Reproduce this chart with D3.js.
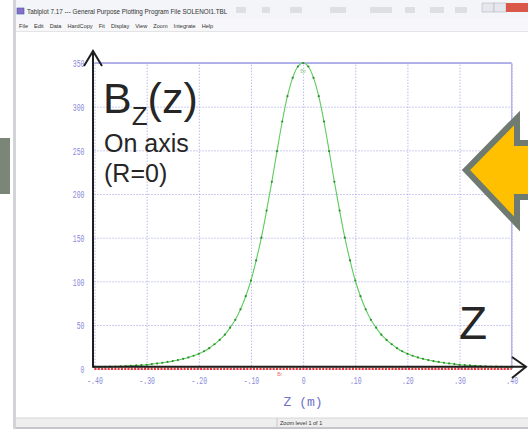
<!DOCTYPE html>
<html>
<head>
<meta charset="utf-8">
<script src="https://cdn.jsdelivr.net/npm/d3@7"></script>
<style>
  body { margin: 0; background: #fff; }
  svg { display: block; }
  .ticklbl { font-family: "Liberation Mono", "DejaVu Sans Mono", monospace; font-size: 11px; fill: #8a8ad8; }
  .over { font-family: "Liberation Sans", Arial, sans-serif; fill: #262626; }
  .win { font-family: "Liberation Sans", Arial, sans-serif; fill: #333; }
</style>
</head>
<body>
<div id="chart"></div>
<script>
// z positions (m) along the solenoid axis
const zValues = [
  -0.40, -0.39, -0.38, -0.37, -0.36, -0.35, -0.34, -0.33, -0.32, -0.31,
  -0.30, -0.29, -0.28, -0.27, -0.26, -0.25, -0.24, -0.23, -0.22, -0.21,
  -0.20, -0.19, -0.18, -0.17, -0.16, -0.15, -0.14, -0.13, -0.12, -0.11,
  -0.10, -0.09, -0.08, -0.07, -0.06, -0.05, -0.04, -0.03, -0.02, -0.01,
  0.00,
  0.01, 0.02, 0.03, 0.04, 0.05, 0.06, 0.07, 0.08, 0.09, 0.10,
  0.11, 0.12, 0.13, 0.14, 0.15, 0.16, 0.17, 0.18, 0.19, 0.20,
  0.21, 0.22, 0.23, 0.24, 0.25, 0.26, 0.27, 0.28, 0.29, 0.30,
  0.31, 0.32, 0.33, 0.34, 0.35, 0.36, 0.37, 0.38, 0.39, 0.40
];
// Bz
const bzValues = [
  1.7, 1.9, 2.1, 2.3, 2.5, 2.7, 3.0, 3.3, 3.7, 4.1,
  4.5, 5.3, 6.0, 6.8, 7.7, 8.7, 9.9, 11.3, 12.9, 14.8,
  17, 20, 23.5, 28, 33, 39, 47, 56, 68, 83,
  101, 124, 150, 181, 214, 249, 283, 312, 333, 346,
  350,
  346, 333, 312, 283, 249, 214, 181, 150, 124, 101,
  83, 68, 56, 47, 39, 33, 28, 23.5, 20, 17,
  14.8, 12.9, 11.3, 9.9, 8.7, 7.7, 6.8, 6.0, 5.3, 4.5,
  4.1, 3.7, 3.3, 3.0, 2.7, 2.5, 2.3, 2.1, 1.9, 1.7
];
// Br on axis is zero
const brValues = [
  0, 0, 0, 0, 0, 0, 0, 0, 0, 0, 0, 0, 0, 0, 0, 0, 0, 0, 0, 0,
  0, 0, 0, 0, 0, 0, 0, 0, 0, 0, 0, 0, 0, 0, 0, 0, 0, 0, 0, 0,
  0,
  0, 0, 0, 0, 0, 0, 0, 0, 0, 0, 0, 0, 0, 0, 0, 0, 0, 0, 0, 0,
  0, 0, 0, 0, 0, 0, 0, 0, 0, 0, 0, 0, 0, 0, 0, 0, 0, 0, 0, 0
];
const xTicks = [-0.4, -0.3, -0.2, -0.1, 0, 0.1, 0.2, 0.3, 0.4];
const xTickLabels = ["-.40", "-.30", "-.20", "-.10", "0", ".10", ".20", ".30", ".40"];
const yTicks = [0, 50, 100, 150, 200, 250, 300, 350];
const yTickLabels = ["0", "50", "100", "150", "200", "250", "300", "350"];
const menuItems = ["File", "Edit", "Data", "HardCopy", "Fit", "Display", "View", "Zoom", "Integrate", "Help"];

const W = 528, H = 429;
const svg = d3.select("#chart").append("svg").attr("width", W).attr("height", H);

// ---- window chrome ----
svg.append("rect").attr("x", 0).attr("y", 138).attr("width", 10).attr("height", 56).attr("fill", "#7b8679");
svg.append("rect").attr("x", 13).attr("y", 0).attr("width", 3).attr("height", H).attr("fill", "#d2d4d8");
svg.append("rect").attr("x", 16).attr("y", 0).attr("width", W - 16).attr("height", 18).attr("fill", "#f3f5f8");
svg.append("rect").attr("x", 16).attr("y", 18).attr("width", W - 16).attr("height", 13).attr("fill", "#f7f7f9");
svg.append("line").attr("x1", 16).attr("x2", W).attr("y1", 31.5).attr("y2", 31.5).attr("stroke", "#e2e4e8");
svg.append("rect").attr("x", 17).attr("y", 8).attr("width", 7).attr("height", 6).attr("fill", "#8a6fc8").attr("stroke", "#3a5aa8").attr("stroke-width", 0.6);
svg.append("text").attr("class", "win").attr("x", 27).attr("y", 14).attr("font-size", 6.3)
  .text("Tablplot 7.17 --- General Purpose Plotting Program     File SOLENOI1.TBL");
// blurred taskbar-ish junk in the title
[[236, 10], [262, 8], [290, 12], [330, 16], [370, 22], [405, 10], [430, 14], [455, 12]].forEach(function (d) {
  svg.append("rect").attr("x", d[0]).attr("y", 7).attr("width", d[1]).attr("height", 6).attr("fill", "#dcdfe4");
});
svg.append("rect").attr("x", 482).attr("y", 3).attr("width", 12).attr("height", 9).attr("fill", "#e4e7ec").attr("stroke", "#aab").attr("stroke-width", 0.5);
svg.append("rect").attr("x", 494).attr("y", 3).attr("width", 12).attr("height", 9).attr("fill", "#e4e7ec").attr("stroke", "#aab").attr("stroke-width", 0.5);
svg.append("rect").attr("x", 506).attr("y", 3).attr("width", 22).attr("height", 9).attr("fill", "#d9584a");
let mx = 19;
menuItems.forEach(function (m) {
  let t = svg.append("text").attr("class", "win").attr("x", mx).attr("y", 27.5).attr("font-size", 5.6).text(m);
  mx += t.node().getComputedTextLength() + 6;
});
// status bar
svg.append("rect").attr("x", 16).attr("y", 418).attr("width", W - 16).attr("height", 9).attr("fill", "#eeeeee");
svg.append("line").attr("x1", 16).attr("x2", W).attr("y1", 418).attr("y2", 418).attr("stroke", "#d6d6d6");
svg.append("line").attr("x1", 277).attr("x2", 277).attr("y1", 418).attr("y2", 427).attr("stroke", "#c8c8c8");
svg.append("text").attr("class", "win").attr("x", 280).attr("y", 425).attr("font-size", 5.5).text("Zoom level 1 of 1");
svg.append("rect").attr("x", 16).attr("y", 427).attr("width", W - 16).attr("height", 2).attr("fill", "#c4c6ca");

// ---- plot ----
const x = d3.scaleLinear().domain([-0.4, 0.4]).range([94.5, 511.7]);
const y = d3.scaleLinear().domain([0, 350]).range([368.7, 63]);

const gy = svg.append("g").attr("transform", "translate(" + x(-0.4) + ",0)")
  .call(d3.axisLeft(y).tickValues(yTicks).tickSize(-(x(0.4) - x(-0.4))).tickPadding(10)
    .tickFormat(function (d, i) { return yTickLabels[i]; }));
gy.select(".domain").remove();
gy.selectAll(".tick line").attr("stroke", "#9a9ae6").attr("stroke-dasharray", "1,2");
gy.selectAll(".tick text").attr("class", "ticklbl").attr("font-size", null).attr("font-family", null)
  .attr("fill", null).attr("dy", "0.35em")
  .attr("textLength", function (d, i) { return yTickLabels[i].length * 3.9; })
  .attr("lengthAdjust", "spacingAndGlyphs");

const gx = svg.append("g").attr("transform", "translate(0," + y(0) + ")")
  .call(d3.axisBottom(x).tickValues(xTicks).tickSize(-(y(0) - y(350))).tickPadding(8)
    .tickFormat(function (d, i) { return xTickLabels[i]; }));
gx.select(".domain").remove();
gx.selectAll(".tick line").attr("stroke", "#9a9ae6").attr("stroke-dasharray", "1,2");
gx.selectAll(".tick text").attr("class", "ticklbl").attr("font-size", null).attr("font-family", null)
  .attr("fill", null)
  .attr("textLength", function (d, i) { return xTickLabels[i].length * 3.9; })
  .attr("lengthAdjust", "spacingAndGlyphs");

// plot frame (top and right)
svg.append("line").attr("x1", x(-0.4)).attr("x2", x(0.4)).attr("y1", y(350)).attr("y2", y(350))
  .attr("stroke", "#9c9ce4").attr("stroke-width", 1.5);
svg.append("line").attr("x1", x(0.4)).attr("x2", x(0.4)).attr("y1", y(350)).attr("y2", y(0))
  .attr("stroke", "#b4b4ea").attr("stroke-width", 1.5);

svg.append("text").attr("x", x(0)).attr("y", 406).attr("text-anchor", "middle")
  .attr("font-family", "Liberation Mono, monospace").attr("font-size", 13).attr("fill", "#7070c6")
  .text("Z (m)");

// Br series (red, on zero)
svg.append("path").datum(zValues)
  .attr("fill", "none").attr("stroke", "#ee3333").attr("stroke-width", 2.5).attr("stroke-dasharray", "2,1.3")
  .attr("d", d3.line().x(function (d) { return x(d); }).y(function (d, i) { return y(brValues[i]); }));
svg.append("text").attr("x", x(-0.045)).attr("y", y(0) + 7).attr("text-anchor", "middle")
  .attr("font-family", "Liberation Sans, sans-serif").attr("font-size", 5).attr("fill", "#f07070").text("Br");

// Bz series (green)
const bzLine = d3.line().curve(d3.curveCatmullRom)
  .x(function (d) { return x(d); }).y(function (d, i) { return y(bzValues[i]); });
svg.append("path").datum(zValues).attr("fill", "none").attr("stroke", "#5ccc5c").attr("stroke-width", 1.1).attr("d", bzLine);
svg.append("g").selectAll("circle").data(zValues).join("circle")
  .attr("cx", function (d) { return x(d); })
  .attr("cy", function (d, i) { return y(bzValues[i]); })
  .attr("r", 1.1).attr("fill", "#2f8f2f");
svg.append("text").attr("x", x(0)).attr("y", y(350) + 10).attr("text-anchor", "middle")
  .attr("font-family", "Liberation Sans, sans-serif").attr("font-size", 5).attr("fill", "#8cd08c").text("Bz");

// ---- slide overlays: axis arrows ----
const ax = svg.append("g").attr("stroke", "#1e1e1e").attr("fill", "none").attr("stroke-width", 2);
ax.append("line").attr("x1", 93).attr("x2", 93).attr("y1", y(0) - 1).attr("y2", 51);
ax.append("polyline").attr("points", "84,66 93,51 102,66");
ax.append("line").attr("x1", 93).attr("x2", 526).attr("y1", y(0) - 2).attr("y2", y(0) - 2);
ax.append("polyline").attr("points", "512,357 526," + (y(0) - 2) + " 512,378");

// B_Z(z) label
const bl = svg.append("text").attr("class", "over").attr("x", 103).attr("y", 113);
bl.append("tspan").attr("font-size", 43).text("B");
bl.append("tspan").attr("font-size", 26).attr("dy", 12).text("Z");
bl.append("tspan").attr("font-size", 43).attr("dy", -12).text("(z)");
svg.append("text").attr("class", "over").attr("x", 104).attr("y", 152).attr("font-size", 25).text("On axis");
svg.append("text").attr("class", "over").attr("x", 104).attr("y", 182).attr("font-size", 25).text("(R=0)");
svg.append("text").attr("class", "over").attr("x", 459).attr("y", 339).attr("font-size", 46).text("Z");

// orange arrow pointing left
svg.append("polygon")
  .attr("points", "466,170 517,118 517,143 540,143 540,197 517,197 517,224")
  .attr("fill", "#ffc000").attr("stroke", "#6f7a70").attr("stroke-width", 6).attr("stroke-linejoin", "miter");
</script>
</body>
</html>
